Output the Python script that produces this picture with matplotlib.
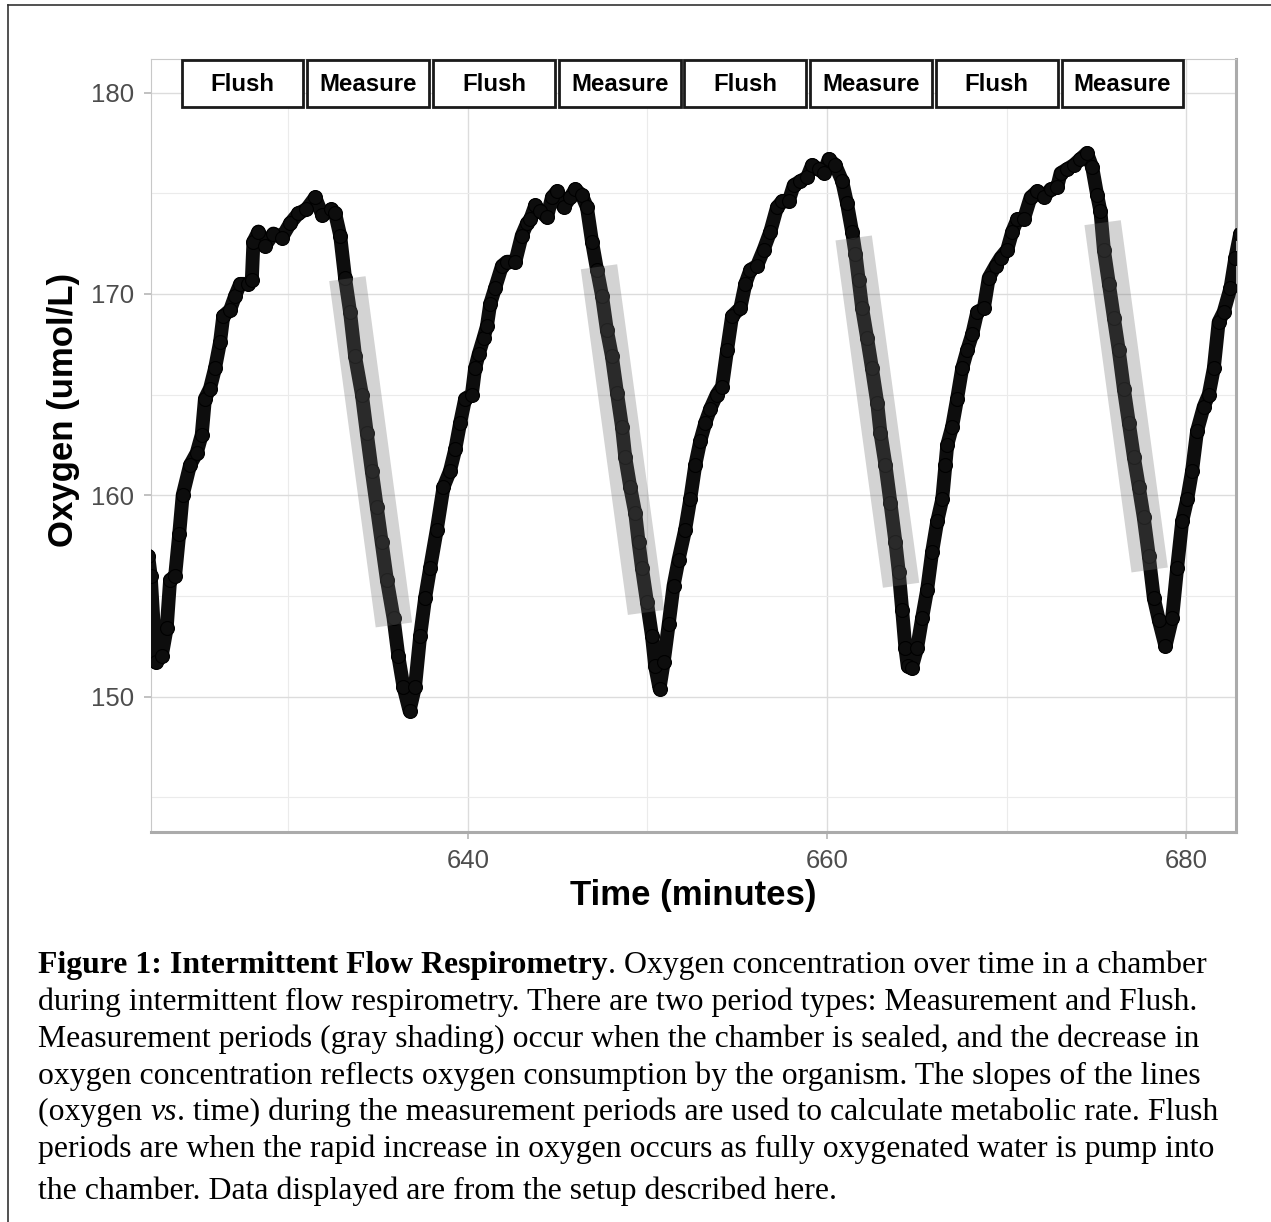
import matplotlib.pyplot as plt
from matplotlib.patches import Rectangle
from matplotlib.lines import Line2D

# Oxygen trace in the chamber (minutes, umol/L)
time_min = [
    622.20, 622.34, 622.63, 622.95, 623.23, 623.42, 623.70, 623.93, 624.12, 624.53,
    624.90, 625.18, 625.36, 625.64, 625.92, 626.20, 626.38, 626.76, 627.04, 627.32,
    627.78, 627.97, 628.06, 628.34, 628.71, 629.17, 629.64, 630.10, 630.56, 631.00,
    631.50, 631.90, 632.40, 632.61, 632.89, 633.16, 633.44, 633.72, 634.10, 634.37,
    634.65, 634.93, 635.20, 635.49, 635.86, 636.13, 636.41, 636.75, 637.06, 637.34,
    637.62, 637.90, 638.27, 638.64, 639.00, 639.30, 639.57, 639.85, 640.22, 640.40,
    640.60, 640.87, 641.06, 641.24, 641.52, 641.90, 642.17, 642.64, 643.00, 643.29,
    643.47, 643.75, 644.03, 644.40, 644.68, 644.96, 645.33, 645.70, 645.98, 646.35,
    646.63, 646.91, 647.19, 647.47, 647.74, 648.02, 648.30, 648.58, 648.76, 649.04,
    649.32, 649.50, 649.69, 649.97, 650.25, 650.43, 650.67, 650.90, 651.18, 651.45,
    651.73, 652.10, 652.38, 652.66, 652.94, 653.22, 653.50, 653.85, 654.15, 654.43,
    654.71, 655.17, 655.45, 655.73, 656.10, 656.47, 656.84, 657.21, 657.49, 657.86,
    658.14, 658.51, 658.89, 659.16, 659.53, 659.81, 660.09, 660.46, 660.84, 661.11,
    661.39, 661.58, 661.76, 661.95, 662.23, 662.50, 662.79, 662.97, 663.25, 663.53,
    663.80, 663.99, 664.18, 664.36, 664.49, 664.70, 665.01, 665.29, 665.57, 665.85,
    666.13, 666.41, 666.59, 666.69, 666.96, 667.24, 667.52, 667.80, 668.08, 668.36,
    668.73, 669.00, 669.38, 669.66, 670.03, 670.31, 670.59, 670.95, 671.33, 671.70,
    672.07, 672.44, 672.81, 673.00, 673.37, 673.73, 674.10, 674.47, 674.76, 675.04,
    675.22, 675.41, 675.69, 675.97, 676.24, 676.52, 676.80, 677.08, 677.36, 677.63,
    677.91, 678.19, 678.47, 678.84, 679.21, 679.49, 679.77, 680.05, 680.32, 680.60,
    680.97, 681.25, 681.53, 681.80, 682.08, 682.46, 682.73, 683.00,
]
oxygen = [
    157.0, 156.0, 151.7, 152.0, 153.4, 155.8, 156.0, 158.1, 160.0, 161.5,
    162.1, 163.0, 164.8, 165.3, 166.3, 167.6, 168.9, 169.2, 169.9, 170.5,
    170.5, 170.7, 172.6, 173.1, 172.4, 173.0, 172.8, 173.5, 174.0, 174.2,
    174.8, 173.9, 174.2, 174.0, 172.9, 170.8, 169.1, 166.9, 165.0, 163.1,
    161.2, 159.4, 157.7, 155.8, 153.9, 152.0, 150.5, 149.3, 150.5, 153.0,
    154.9, 156.4, 158.3, 160.4, 161.2, 162.3, 163.6, 164.8, 165.0, 166.3,
    167.0, 167.8, 168.4, 169.5, 170.3, 171.4, 171.6, 171.6, 172.9, 173.5,
    173.7, 174.4, 174.1, 173.8, 174.8, 175.1, 174.3, 174.8, 175.2, 174.9,
    174.3, 172.6, 171.2, 169.9, 168.2, 166.9, 165.1, 163.4, 161.9, 160.4,
    159.1, 157.7, 156.4, 154.7, 153.0, 151.5, 150.4, 151.7, 153.6, 155.5,
    156.8, 158.3, 159.8, 161.5, 162.7, 163.6, 164.3, 165.0, 165.4, 167.2,
    168.9, 169.3, 170.5, 171.2, 171.4, 172.2, 173.1, 174.3, 174.6, 174.6,
    175.4, 175.6, 175.8, 176.4, 176.2, 176.0, 176.7, 176.4, 175.6, 174.5,
    173.1, 172.0, 170.7, 169.3, 167.8, 166.3, 164.6, 163.1, 161.5, 159.6,
    157.7, 156.2, 154.3, 152.4, 151.5, 151.4, 152.4, 153.9, 155.3, 157.2,
    158.7, 159.8, 161.5, 162.5, 163.4, 164.8, 166.3, 167.2, 168.0, 169.1,
    169.3, 170.8, 171.4, 171.8, 172.2, 173.1, 173.7, 173.7, 174.8, 175.1,
    174.8, 175.2, 175.3, 176.0, 176.2, 176.4, 176.7, 177.0, 176.3, 174.9,
    174.1, 172.2, 170.5, 168.8, 167.2, 165.3, 163.6, 161.9, 160.4, 158.9,
    157.0, 154.9, 153.8, 152.5, 153.9, 156.4, 158.7, 159.8, 161.2, 163.2,
    164.4, 165.0, 166.3, 168.6, 169.1, 170.3, 171.8, 173.0,
]

# linear fits over each measurement window
fit_t_start = [633.29, 647.30, 661.48, 675.34]
fit_t_end = [635.88, 649.92, 664.12, 677.96]
fit_o_start = [170.76, 171.35, 172.78, 173.54]
fit_o_end = [153.56, 154.18, 155.53, 156.29]

# flush / measure periods shown along the top
period_labels = ['Flush', 'Measure', 'Flush', 'Measure', 'Flush', 'Measure', 'Flush', 'Measure']
period_start = [623.95, 630.95, 637.95, 644.95, 651.95, 658.95, 665.95, 672.95]
period_len = 7.0

caption_lines = [
    [("Figure 1: Intermittent Flow Respirometry", 'bold', 'normal'),
     (". Oxygen concentration over time in a chamber", 'normal', 'normal')],
    [("during intermittent flow respirometry. There are two period types: Measurement and Flush.", 'normal', 'normal')],
    [("Measurement periods (gray shading) occur when the chamber is sealed, and the decrease in", 'normal', 'normal')],
    [("oxygen concentration reflects oxygen consumption by the organism. The slopes of the lines", 'normal', 'normal')],
    [("(oxygen ", 'normal', 'normal'), ("vs", 'normal', 'italic'),
     (". time) during the measurement periods are used to calculate metabolic rate. Flush", 'normal', 'normal')],
    [("periods are when the rapid increase in oxygen occurs as fully oxygenated water is pump into", 'normal', 'normal')],
    [("the chamber. Data displayed are from the setup described here.", 'normal', 'normal')],
]
caption_baselines = [973, 1010, 1047, 1084, 1120, 1157, 1199]

W, H = 1271, 1222
fig = plt.figure(figsize=(W / 100, H / 100), dpi=100)
fig.patch.set_facecolor('white')

ax = fig.add_axes([150.7 / W, 1 - 832.3 / H, 1085.0 / W, 773.3 / H])
ax.set_xlim(622.34, 682.75)
ax.set_ylim(143.26, 181.67)

ax.set_xticks([640, 660, 680])
ax.set_xticks([630, 650, 670], minor=True)
ax.set_yticks([150, 160, 170, 180])
ax.set_yticks([145, 155, 165, 175], minor=True)
ax.grid(which='major', color='#dcdcdc', lw=1.0)
ax.grid(which='minor', color='#ebebeb', lw=0.8)
ax.set_axisbelow(True)
ax.tick_params(which='minor', length=0)
ax.tick_params(which='major', length=5, width=1.1, color='#b0b0b0',
               labelsize=18.5, labelcolor='#4d4d4d', pad=7)
for lab in ax.get_xticklabels() + ax.get_yticklabels():
    lab.set_family('Liberation Sans')

for side in ['left', 'top']:
    ax.spines[side].set_color('#c8c8c8')
    ax.spines[side].set_linewidth(0.8)
for side in ['bottom', 'right']:
    ax.spines[side].set_color('#ababab')
    ax.spines[side].set_linewidth(2.2)

# oxygen trace
ax.plot(time_min, oxygen, color='#0d0d0d', lw=10, solid_joinstyle='round',
        solid_capstyle='round', marker='o', ms=10, mfc='#0d0d0d', mec='black',
        mew=0.8, zorder=3)

# regression bands
for t0, t1, o0, o1 in zip(fit_t_start, fit_t_end, fit_o_start, fit_o_end):
    ax.plot([t0, t1], [o0, o1], color='#6e6e6e', alpha=0.3, lw=26.4,
            solid_capstyle='butt', zorder=4)

# period labels
for lab, s in zip(period_labels, period_start):
    ax.add_patch(Rectangle((s + 0.11, 179.27), period_len - 0.22, 2.33,
                           facecolor='white', edgecolor='#1a1a1a', lw=2.0,
                           zorder=6, clip_on=False))
    ax.text(s + period_len / 2, 180.40, lab, ha='center', va='center',
            fontsize=17.3, fontweight='bold', family='Liberation Sans', zorder=7)

# axis titles
fig.text(693 / W, 1 - 895 / H, 'Time (minutes)', ha='center', va='center',
         fontsize=25, fontweight='bold', family='Liberation Sans')
fig.text(63 / W, 1 - 410 / H, 'Oxygen (umol/L)', ha='center', va='center',
         rotation=90, fontsize=25, fontweight='bold', family='Liberation Sans')

# caption below the chart, drawn piece by piece for the mixed styles
renderer = fig.canvas.get_renderer()
for segs, base in zip(caption_lines, caption_baselines):
    x = 38 / W
    for txt, wt, st in segs:
        t = fig.text(x, 1 - base / H, txt, ha='left', va='baseline',
                     fontsize=22.9, fontweight=wt, fontstyle=st,
                     family='Liberation Serif')
        bb = t.get_window_extent(renderer)
        x = bb.x1 / W

# outer frame
fig.add_artist(Line2D([8 / W, 8 / W], [0, 1 - 5 / H], color='#333333', lw=1.2))
fig.add_artist(Line2D([8 / W, 1], [1 - 5 / H, 1 - 5 / H], color='#333333', lw=1.2))

fig.savefig('out.png', dpi=100)
